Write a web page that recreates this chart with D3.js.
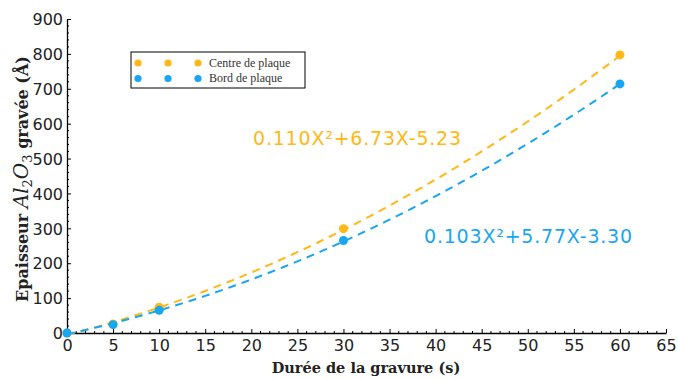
<!DOCTYPE html>
<html><head><meta charset="utf-8">
<script src="https://cdn.jsdelivr.net/npm/d3@7"></script>
<style>body{margin:0;background:#fff;} svg{display:block;}</style>
</head><body>
<svg id="c" width="678" height="379"></svg>
<script>
const durations = [0, 5, 10, 30, 60];
const centreValues = [0, 26, 74, 299, 797];
const bordValues = [0, 24, 65, 265, 714];
const centreFit = [0.110, 6.73, -5.23];
const bordFit = [0.103, 5.77, -3.30];
const xTicks = d3.range(0, 66, 5);
const yTicks = d3.range(0, 901, 100);
const seriesNames = ["Centre de plaque", "Bord de plaque"];
const equationLabels = ["0.110X²+6.73X-5.23", "0.103X²+5.77X-3.30"];
const colors = ["#FFB814", "#18A6F2"];

const svg = d3.select("#c");
const x = d3.scaleLinear().domain([0, 65]).range([67, 666]);
const y = d3.scaleLinear().domain([0, 900]).range([333, 19]);

// minor ticks
const xMinor = d3.range(0, 66, 1).filter(v => v % 5 !== 0);
const yMinor = d3.range(0, 901, 20).filter(v => v % 100 !== 0);
svg.append("g").selectAll("line").data(xMinor).join("line")
  .attr("x1", d => x(d)).attr("x2", d => x(d)).attr("y1", y(0)).attr("y2", y(0) - 2)
  .attr("stroke", "#000").attr("stroke-width", 1);
svg.append("g").selectAll("line").data(yMinor).join("line")
  .attr("x1", x(0)).attr("x2", x(0) + 2).attr("y1", d => y(d)).attr("y2", d => y(d))
  .attr("stroke", "#000").attr("stroke-width", 1);

const xAxis = svg.append("g").attr("transform", `translate(0,${y(0)})`)
  .call(d3.axisBottom(x).tickValues(xTicks).tickSizeInner(-4).tickSizeOuter(0).tickPadding(7));
const yAxis = svg.append("g").attr("transform", `translate(${x(0)},0)`)
  .call(d3.axisLeft(y).tickValues(yTicks).tickSizeInner(-4).tickSizeOuter(0).tickPadding(4));
[xAxis, yAxis].forEach(g => {
  g.select(".domain").attr("stroke", "#000").attr("stroke-width", 1.3);
  g.selectAll("text").attr("font-family", "DejaVu Sans, Verdana, sans-serif").attr("font-size", 16).attr("fill", "#222");
});
yAxis.selectAll("text").attr("dy", "0.36em");

// fitted curves
const fits = [centreFit, bordFit];
const line = d3.line().x(d => x(d[0])).y(d => y(d[1]));
fits.forEach((c, i) => {
  const pts = d3.range(0, 60.01, 0.5).map(t => [t, c[0]*t*t + c[1]*t + c[2]]);
  svg.append("path").attr("d", line(pts)).attr("fill", "none")
    .attr("stroke", colors[i]).attr("stroke-width", 2).attr("stroke-dasharray", "8,6");
});

// points
[centreValues, bordValues].forEach((vals, i) => {
  svg.append("g").selectAll("circle").data(durations).join("circle")
    .attr("cx", d => x(d)).attr("cy", (d, j) => y(vals[j])).attr("r", 4.5)
    .attr("fill", colors[i]);
});

// equations
[[253, 145], [424, 243]].forEach((p, i) => {
  svg.append("text").attr("x", p[0]).attr("y", p[1]).attr("font-family", "DejaVu Sans, Verdana, sans-serif")
    .attr("font-size", 19).attr("letter-spacing", 0.8).attr("fill", colors[i]).text(equationLabels[i]);
});

// legend
const lg = svg.append("g");
lg.append("rect").attr("x", 131).attr("y", 52).attr("width", 174).attr("height", 36)
  .attr("fill", "#fff").attr("stroke", "#000").attr("stroke-width", 1);
seriesNames.forEach((n, i) => {
  const yy = 63 + i * 15.5;
  [138, 168, 198].forEach(xx => lg.append("circle").attr("cx", xx).attr("cy", yy).attr("r", 3.6).attr("fill", colors[i]));
  lg.append("text").attr("x", 209).attr("y", yy + 3.5).attr("font-family", "Liberation Serif, DejaVu Serif, serif")
    .attr("font-size", 12).attr("fill", "#333").text(n);
});

// axis titles
svg.append("text").attr("x", 366).attr("y", 373).attr("text-anchor", "middle")
  .attr("font-family", "DejaVu Serif, Liberation Serif, serif").attr("font-weight", "bold").attr("font-size", 14.5)
  .attr("fill", "#222").text("Durée de la gravure (s)");
const yt = svg.append("text").attr("transform", "translate(28,179) rotate(-90)").attr("text-anchor", "middle")
  .attr("font-family", "DejaVu Serif, Liberation Serif, serif").attr("font-weight", "bold").attr("font-size", 16).attr("fill", "#222");
yt.append("tspan").text("Epaisseur ");
yt.append("tspan").attr("font-style", "italic").attr("font-weight", "normal").attr("font-size", 20).text("Al");
yt.append("tspan").attr("font-style", "normal").attr("font-weight", "normal").attr("font-size", 13).attr("dy", 4).text("2");
yt.append("tspan").attr("font-style", "italic").attr("font-weight", "normal").attr("font-size", 20).attr("dy", -4).text("O");
yt.append("tspan").attr("font-style", "normal").attr("font-weight", "normal").attr("font-size", 13).attr("dy", 4).text("3");
yt.append("tspan").attr("dy", -4).text(" gravée (Å)");
</script>
</body></html>
